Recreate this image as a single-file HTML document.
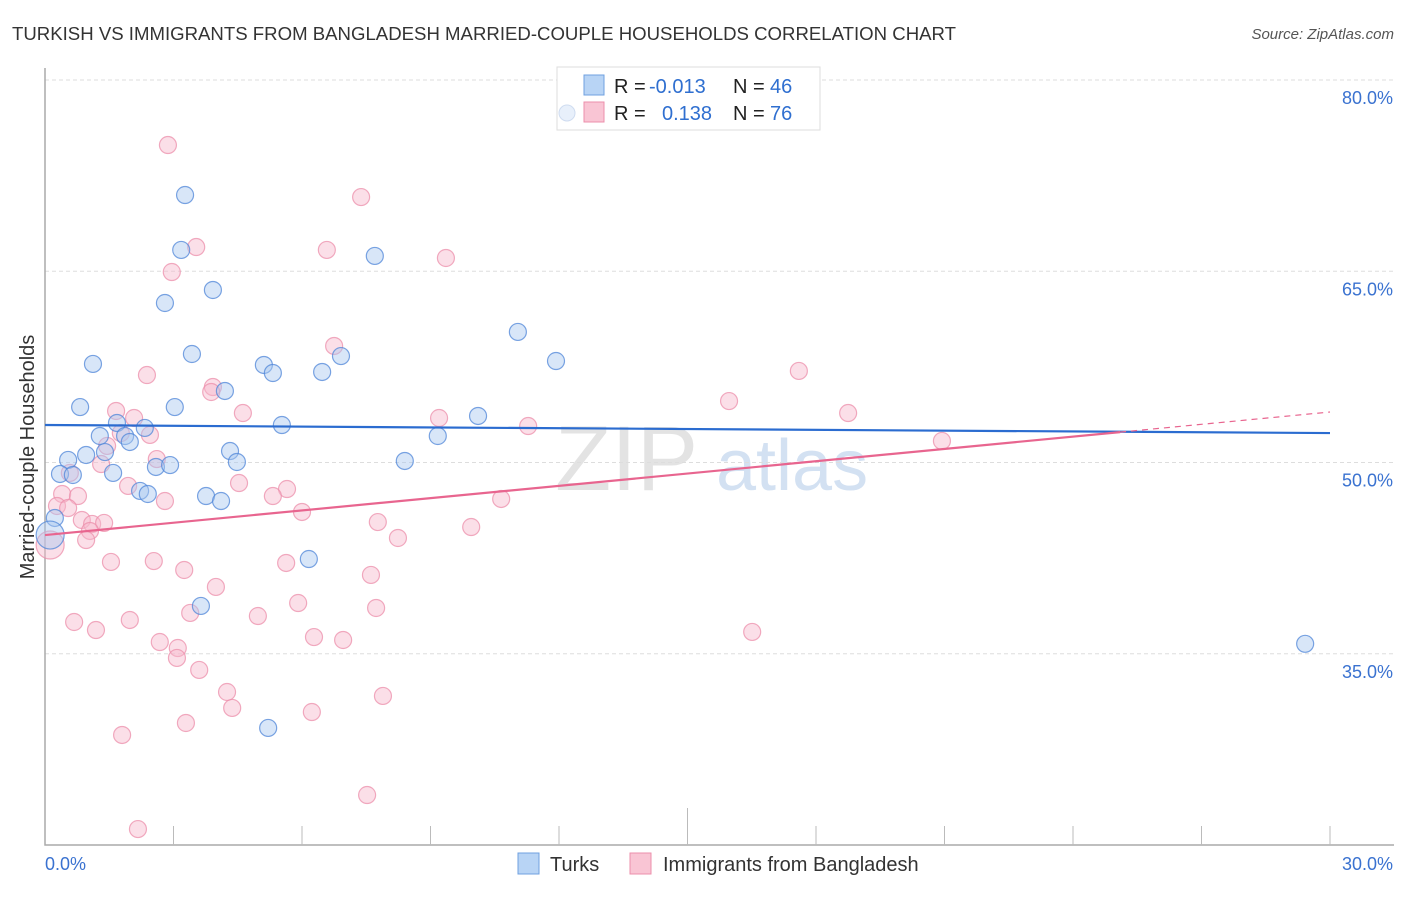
<!DOCTYPE html>
<html><head><meta charset="utf-8"><style>
body{margin:0;background:#fff;font-family:"Liberation Sans",sans-serif;}
svg text{font-family:"Liberation Sans",sans-serif;}
</style></head><body>
<svg id="chart" width="1406" height="892" xmlns="http://www.w3.org/2000/svg">
<text x="12" y="40" font-size="18.5" fill="#333" textLength="944" lengthAdjust="spacingAndGlyphs">TURKISH VS IMMIGRANTS FROM BANGLADESH MARRIED-COUPLE HOUSEHOLDS CORRELATION CHART</text>
<text x="1394" y="39" font-size="15" fill="#555" text-anchor="end" font-style="italic">Source: ZipAtlas.com</text>
<g>
<text x="555" y="490" font-size="92" fill="#ddd" font-family="Liberation Serif" opacity="0.8">ZIP</text>
<text x="716" y="490" font-size="72" fill="#c9daf0" opacity="0.8">atlas</text>
</g>
<g id="grid"></g>
<g id="axes"></g>
<g id="marks"></g>
<g id="trends"></g>
<text transform="translate(34,457) rotate(-90)" font-size="20" fill="#333" text-anchor="middle">Married-couple Households</text>
<g>
<rect x="557" y="67" width="263" height="63" fill="#fff" stroke="#ddd"/>
<circle cx="567" cy="113" r="8" fill="#e8f0fb" stroke="#cfdcf0"/>
<rect x="584" y="75" width="20" height="20" fill="#b8d4f5" stroke="#6fa0e0"/>
<rect x="584" y="102" width="20" height="20" fill="#f9c5d4" stroke="#ec8fab"/>
<text y="93" font-size="20" fill="#222"><tspan x="614">R =</tspan><tspan x="649" fill="#2f6fd0">-0.013</tspan><tspan x="733">N =</tspan><tspan x="770" fill="#2f6fd0">46</tspan></text>
<text y="120" font-size="20" fill="#222"><tspan x="614">R =</tspan><tspan x="662" fill="#2f6fd0">0.138</tspan><tspan x="733">N =</tspan><tspan x="770" fill="#2f6fd0">76</tspan></text>
</g>
<g>
<rect x="518" y="853" width="21" height="21" fill="#b8d4f5" stroke="#6fa0e0"/>
<text x="550" y="871" font-size="20" fill="#333">Turks</text>
<rect x="630" y="853" width="21" height="21" fill="#f9c5d4" stroke="#ec8fab"/>
<text x="663" y="871" font-size="20" fill="#333">Immigrants from Bangladesh</text>
</g>
</svg>
<script>
const yTicks=[80,65,50,35];
const yTickLabels=["80.0%","65.0%","50.0%","35.0%"];
const xTickVals=[3,6,9,12,15,18,21,24,27,30];
const turksX=[3.27,3.18,7.70,2.80,3.92,11.04,11.93,3.43,6.91,1.12,5.11,5.32,6.47,4.20,0.82,3.03,10.11,5.53,1.68,2.33,1.28,1.87,1.98,9.17,1.40,0.96,0.54,4.32,4.48,8.40,2.59,2.92,0.35,0.65,1.59,2.22,2.40,3.76,4.11,0.23,0.12,6.16,3.64,29.42,5.21];
const turksY=[70.98,66.67,66.20,62.51,63.53,60.24,57.96,58.51,58.35,57.73,57.65,57.02,57.10,55.61,54.35,54.35,53.65,52.94,53.10,52.71,52.08,52.08,51.61,52.08,50.82,50.59,50.20,50.90,50.04,50.12,49.65,49.80,49.10,49.02,49.18,47.77,47.53,47.37,46.98,45.65,44.31,42.43,38.75,35.78,29.18];
const bangX=[2.87,7.38,3.53,6.58,9.36,2.96,6.75,17.60,2.38,3.92,3.88,15.97,1.66,4.62,18.75,9.20,2.08,11.28,2.45,1.77,20.94,1.45,2.61,1.31,0.58,1.94,4.53,0.40,0.77,5.65,5.32,2.80,10.65,0.28,0.54,6.00,0.86,1.10,1.38,7.77,9.95,1.05,0.96,8.24,0.12,1.54,2.54,5.63,3.25,7.61,3.99,5.91,3.39,7.73,4.97,0.68,1.98,1.19,16.51,2.68,6.28,6.96,3.10,3.08,3.60,4.25,7.89,4.37,6.23,3.29,1.80,7.52,2.17];
const bangY=[74.90,70.82,66.90,66.67,66.04,64.94,59.14,57.18,56.86,55.92,55.53,54.82,54.04,53.88,53.88,53.49,53.49,52.86,52.16,52.31,51.69,51.30,50.27,49.88,49.18,48.16,48.39,47.53,47.37,47.92,47.37,46.98,47.14,46.59,46.43,46.12,45.49,45.18,45.26,45.33,44.94,44.63,43.92,44.08,43.53,42.20,42.27,42.12,41.57,41.18,40.24,38.98,38.20,38.59,37.96,37.49,37.65,36.86,36.71,35.92,36.31,36.08,35.45,34.67,33.73,32.00,31.69,30.75,30.43,29.57,28.63,23.92,21.25];
const turksTrend=[52.94,52.31];
const bangTrend=[44.31,53.96];
const bangSolidEnd=25.1;
const NS="http://www.w3.org/2000/svg";
function xs(v){return 45+v/30*1285;}
function ys(v){return 80+(80-v)*12.75;}
function mk(t,a,p){const e=document.createElementNS(NS,t);for(const k in a)e.setAttribute(k,a[k]);p.appendChild(e);return e;}
const grid=document.getElementById('grid'),axes=document.getElementById('axes'),marks=document.getElementById('marks'),trends=document.getElementById('trends');
yTicks.forEach((v,i)=>{
 const l=mk('line',{x1:45,x2:1394,y1:ys(v),y2:ys(v),stroke:'#ddd','stroke-dasharray':'4,3'},grid);
 
 
 const t=mk('text',{x:1393,y:ys(v)+24,'font-size':18,fill:'#3a72d0','text-anchor':'end'},axes);
 t.textContent=yTickLabels[i];
 
 
});
const ax=mk('path',{d:'M45,68V845H1394',fill:'none',stroke:'#aaa','stroke-width':1.5},axes);


xTickVals.forEach(v=>{
 const tk=mk('line',{x1:xs(v),x2:xs(v),y1:v===15?808:826,y2:845,stroke:'#bbb'},axes);
 
 
});
const x0=mk('text',{x:45,y:870,'font-size':18,fill:'#3a72d0'},axes);x0.textContent='0.0%';


const x1=mk('text',{x:1393,y:870,'font-size':18,fill:'#3a72d0','text-anchor':'end'},axes);x1.textContent='30.0%';


function dots(X,Y,fill,stroke,name){X.forEach((x,i)=>{
 const r=(x<0.2)?14:8.5;
 const c=mk('circle',{cx:xs(x),cy:ys(Y[i]),r:r,fill:fill,'fill-opacity':0.45,stroke:stroke,'stroke-opacity':0.75,'stroke-width':1.2},marks);
 
 
});}
dots(bangX,bangY,'#f7b8cb','#ec8fab','bangladesh-point');
dots(turksX,turksY,'#a9c8f0','#4f86d8','turks-point');
const tl=mk('line',{x1:xs(0),y1:ys(turksTrend[0]),x2:xs(30),y2:ys(turksTrend[1]),stroke:'#2b6cd0','stroke-width':2.2},trends);


const by=bangTrend[0]+(bangTrend[1]-bangTrend[0])*bangSolidEnd/30;
const bl=mk('line',{x1:xs(0),y1:ys(bangTrend[0]),x2:xs(bangSolidEnd),y2:ys(by),stroke:'#e8658f','stroke-width':2.2},trends);


const bd=mk('line',{x1:xs(bangSolidEnd),y1:ys(by),x2:xs(30),y2:ys(bangTrend[1]),stroke:'#e8658f','stroke-width':1.2,'stroke-dasharray':'6,5'},trends);


</script>
</body></html>
